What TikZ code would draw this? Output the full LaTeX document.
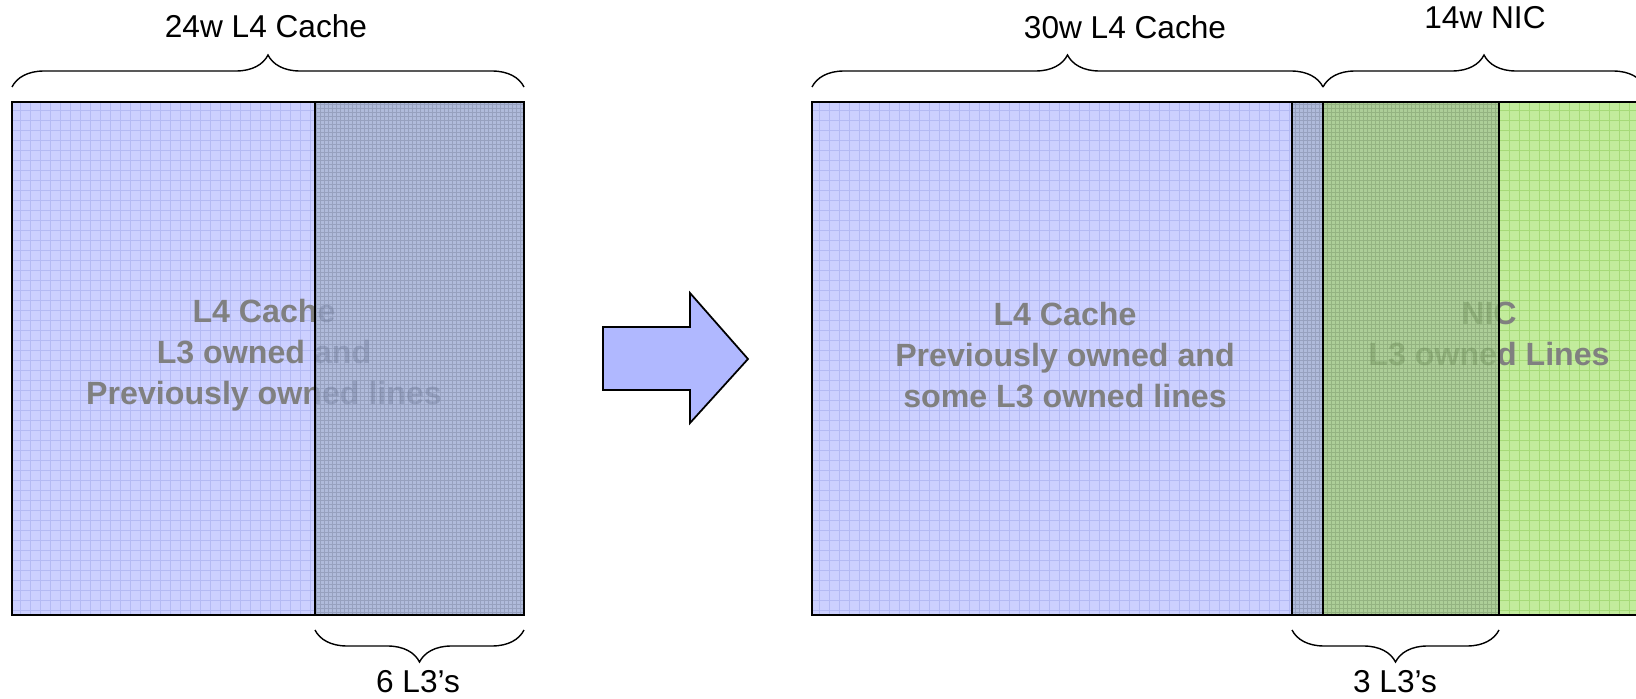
\documentclass[tikz,border=0pt]{standalone}
\usepackage{fontspec}
\setmainfont{Liberation Sans}
\usetikzlibrary{decorations.pathreplacing}

\definecolor{lightblue}{HTML}{CCD0FF}
\definecolor{lightgrid}{HTML}{B4BAF4}
\definecolor{darkblue}{HTML}{9CAAD2}
\definecolor{darkgreen}{HTML}{98C27E}
\definecolor{lightgreen}{HTML}{C2EC9C}
\definecolor{greengrid}{HTML}{A6DA78}
\definecolor{arrowblue}{HTML}{B0B8FF}
\definecolor{labelgray}{HTML}{808080}

\begin{document}
\begin{tikzpicture}[x=0.02cm, y=-0.02cm,
    caption/.style={font=\fontsize{18}{21}\selectfont},
    inner/.style={font=\fontsize{18.3}{23.5}\selectfont\bfseries, text=labelgray, align=center},
    topbrace/.style={decorate, decoration={brace, amplitude=0.64cm}, line width=0.8pt},
    botbrace/.style={decorate, decoration={brace, mirror, amplitude=0.64cm}, line width=0.8pt}]
   \useasboundingbox (0,0) rectangle (1636,699);

   % light parts
   \fill[lightblue] (12,102) rectangle (315,615);
   \draw[lightgrid, step=0.2cm] (12,102) grid (315,615);
   \fill[lightblue] (812,102) rectangle (1292,615);
   \draw[lightgrid, step=0.2cm] (812,102) grid (1292,615);
   \fill[lightgreen] (1499,102) rectangle (1660,615);
   \draw[greengrid, step=0.2cm] (1499,102) grid (1660,615);

   \node[inner] (left) at (264,355) {L4 Cache\\L3 owned and\\Previously owned lines};
   \node[inner] (cache) at (1065,355) {L4 Cache\\Previously owned and\\some L3 owned lines};
   \node[inner] (nic) at (1489,334) {NIC\\L3 owned Lines};

   % L3 owned parts
   \fill[darkblue, fill opacity=0.8] (315,102) rectangle (524,615);
   \draw[darkblue!60!black, opacity=0.3, step=0.08cm] (315,102) grid (524,615);
   \fill[darkblue, fill opacity=0.8] (1292,102) rectangle (1323,615);
   \draw[darkblue!60!black, opacity=0.3, step=0.08cm] (1292,102) grid (1323,615);
   \fill[darkgreen, fill opacity=0.8] (1323,102) rectangle (1499,615);
   \draw[darkgreen!60!black, opacity=0.3, step=0.08cm] (1323,102) grid (1499,615);

   \draw[line width=1pt] (12,102) rectangle (524,615);
   \draw[line width=1pt] (315,102) -- (315,615);
   \draw[line width=1pt] (812,102) rectangle (1660,615);
   \draw[line width=1pt] (1292,102) -- (1292,615);
   \draw[line width=1pt] (1323,102) -- (1323,615);
   \draw[line width=1pt] (1499,102) -- (1499,615);

   \filldraw[fill=arrowblue, line width=1pt] (603,327) -- (690,327) -- (690,293) -- (748,359)
      -- (690,423) -- (690,390) -- (603,390) -- cycle;

   \coordinate (a1) at (12,87);
   \coordinate (a2) at (524,87);
   \coordinate (b1) at (812,87);
   \coordinate (b2) at (1323,87);
   \coordinate (b3) at (1645,87);
   \coordinate (c1) at (315,630);
   \coordinate (c2) at (524,630);
   \coordinate (d1) at (1292,630);
   \coordinate (d2) at (1499,630);

   \draw[topbrace] (a1) -- (a2);
   \draw[topbrace] (b1) -- (b2);
   \draw[topbrace] (b2) -- (b3);
   \draw[botbrace] (c1) -- (c2);
   \draw[botbrace] (d1) -- (d2);

   \node[caption] (l4old) at (266,26) {24w L4 Cache};
   \node[caption] (l4new) at (1125,27) {30w L4 Cache};
   \node[caption] (nicw) at (1485,18) {14w NIC};
   \node[caption] (l3old) at (418,682) {6 L3’s};
   \node[caption] (l3new) at (1395,682) {3 L3’s};
\end{tikzpicture}
\end{document}
